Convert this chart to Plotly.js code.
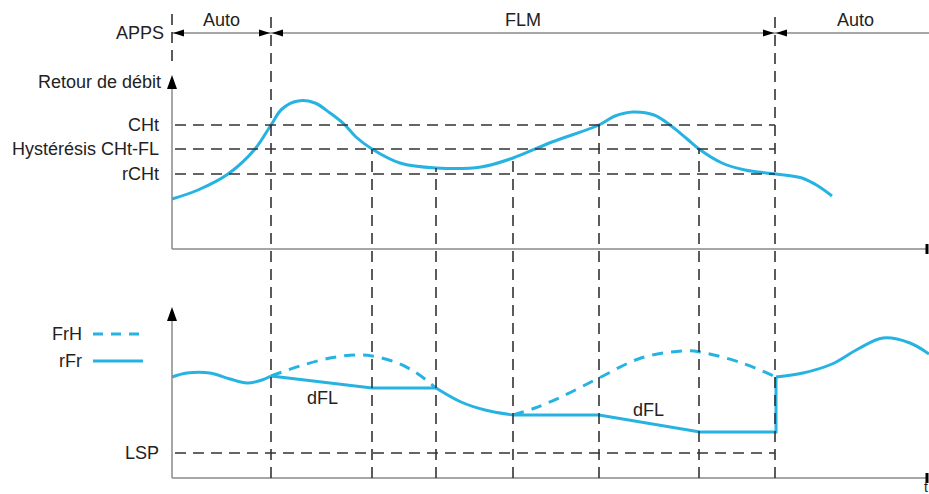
<!DOCTYPE html>
<html>
<head>
<meta charset="utf-8">
<script src="https://cdn.plot.ly/plotly-3.0.1.min.js"></script>
<style>html,body{margin:0;padding:0;background:#fff;}#chart{width:929px;height:494px;}</style>
</head>
<body>
<div id="chart"></div>
<script>
// ---------- data (time t) ----------
// Mode bar (APPS)
const modeNames = ['Auto', 'FLM', 'Auto'];
const modeBounds = [0, 99, 603, 763];

// Event times (vertical dashed markers)
const eventT = [99, 200, 264, 341, 427, 527, 603];
// level (top panel) where each marker starts; null = full height
const eventStartLevel = [null, 100, 81, 91, 124, 100, null];

// Top panel: flow return thresholds
const thrNames = ['CHt', 'Hystérésis CHt-FL', 'rCHt'];
const thrValues = [124, 100, 75];

// Top panel: flow return curve
const flowT = [0, 26, 56, 83, 99, 110, 126, 143, 158, 172, 184, 200, 228, 264, 309, 341, 380, 427, 443, 461, 482, 498, 514, 527, 550, 573, 604, 630, 646, 660];
const flowV = [50, 59, 75, 100, 124, 140, 148, 146, 136, 125, 112, 100, 86, 81, 82, 91, 107, 124, 133, 137, 134, 124, 111, 100, 86, 79, 75, 71, 63, 53];

// Bottom panel: LSP level
const lspValue = 25;

// Bottom panel: rFr (solid) – points and segment shapes
const rFrT = [0, 15, 38, 58, 75, 90, 99, 200, 264, 289, 313, 341, 427, 528, 604, 604, 631, 660, 686, 711, 738, 757];
const rFrV = [101, 105, 105, 99, 95, 98, 102, 90, 90, 76, 68, 63, 63, 46, 46, 101, 105, 114, 129, 140, 135, 124];
const rFrSegments = [[0, 6, 'spline'], [6, 8, 'linear'], [8, 11, 'spline'], [11, 15, 'linear'], [15, 21, 'spline']];

// Bottom panel: FrH (dashed) – two arcs
const frh1T = [99, 128, 158, 183, 200, 223, 243, 264];
const frh1V = [102, 112, 120, 123, 122, 116, 106, 90];
const frh2T = [341, 363, 389, 427, 469, 510, 528, 570, 604];
const frh2V = [63, 70, 81, 100, 120, 127, 126, 115, 101];

// Labels
const dflLabels = [{t: 150, v: 80}, {t: 476, v: 68}];

// ---------- layout constants ----------
const W = 929, H = 494;
const X_RANGE = [-172, 757];
const TOP_DOM = [1 - 260 / 494, 1];
const TOP_RANGE = [-11, 249];
const BOT_DOM = [0, 1 - 260 / 494];
const BOT_RANGE = [-16, 218];
const BLUE = '#27b3e2';
const DARK = '#333333';
const AXC = '#8a8a8a';
const FONT = {family: 'Liberation Sans, Arial, sans-serif', size: 18, color: '#222'};

const topPaper = v => TOP_DOM[0] + (v - TOP_RANGE[0]) / (TOP_RANGE[1] - TOP_RANGE[0]) * (TOP_DOM[1] - TOP_DOM[0]);
const botPaper = v => BOT_DOM[0] + (v - BOT_RANGE[0]) / (BOT_RANGE[1] - BOT_RANGE[0]) * (BOT_DOM[1] - BOT_DOM[0]);

// ---------- traces ----------
const traces = [];
traces.push({x: flowT, y: flowV, yaxis: 'y', mode: 'lines', line: {color: BLUE, width: 3, shape: 'spline', smoothing: 1}, hoverinfo: 'skip', showlegend: false});
rFrSegments.forEach(([a, b, s]) => {
  traces.push({x: rFrT.slice(a, b + 1), y: rFrV.slice(a, b + 1), xaxis: 'x', yaxis: 'y2', mode: 'lines',
    line: {color: BLUE, width: 3, shape: s, smoothing: 1}, hoverinfo: 'skip', showlegend: false});
});
[[frh1T, frh1V], [frh2T, frh2V]].forEach(([tx, vy]) => {
  traces.push({x: tx, y: vy, yaxis: 'y2', mode: 'lines', line: {color: BLUE, width: 3, shape: 'spline', smoothing: 1, dash: '11px,8px'}, hoverinfo: 'skip', showlegend: false});
});

// ---------- shapes ----------
const shapes = [];
const dashLine = {color: DARK, width: 1.6, dash: '11px,7px'};
// axes
shapes.push({type: 'line', xref: 'x', yref: 'y', x0: 0, x1: 0, y0: 0, y1: 160, line: {color: AXC, width: 1.5}});
shapes.push({type: 'line', xref: 'x', yref: 'y', x0: 0, x1: 755, y0: 0, y1: 0, line: {color: AXC, width: 1.5}});
shapes.push({type: 'line', xref: 'x', yref: 'y2', x0: 0, x1: 0, y0: 0, y1: 158, line: {color: AXC, width: 1.5}});
shapes.push({type: 'line', xref: 'x', yref: 'y2', x0: 0, x1: 755, y0: 0, y1: 0, line: {color: AXC, width: 1.5}});
// axis end bars
shapes.push({type: 'line', xref: 'x', yref: 'y', x0: 755, x1: 755, y0: -5, y1: 5, line: {color: '#000', width: 3}});
shapes.push({type: 'line', xref: 'x', yref: 'y2', x0: 755, x1: 755, y0: -5, y1: 5, line: {color: '#000', width: 3}});
// vertical axis arrow heads
shapes.push({type: 'path', xref: 'x', yref: 'y', xsizemode: 'pixel', ysizemode: 'pixel', xanchor: 0, yanchor: 174,
  path: 'M0,0 L-5,-14 L5,-14 Z', fillcolor: '#000', line: {width: 0}});
shapes.push({type: 'path', xref: 'x', yref: 'y2', xsizemode: 'pixel', ysizemode: 'pixel', xanchor: 0, yanchor: 171,
  path: 'M0,0 L-5,-14 L5,-14 Z', fillcolor: '#000', line: {width: 0}});
// thresholds
thrValues.forEach(v => shapes.push({type: 'line', xref: 'x', yref: 'y', x0: 3, x1: 603, y0: v, y1: v, line: dashLine}));
shapes.push({type: 'line', xref: 'x', yref: 'y2', x0: 3, x1: 603, y0: lspValue, y1: lspValue, line: dashLine});
// APPS line
const appsV = 216;
shapes.push({type: 'line', xref: 'x', yref: 'y', x0: 0, x1: 757, y0: appsV, y1: appsV, line: {color: AXC, width: 1.3}});
// vertical event markers
const topOfMarkers = 237;
shapes.push({type: 'line', xref: 'x', yref: 'paper', x0: 0, x1: 0, y0: topPaper(188), y1: topPaper(topOfMarkers), line: dashLine});
eventT.forEach((t, i) => {
  const lvl = eventStartLevel[i];
  shapes.push({type: 'line', xref: 'x', yref: 'paper', x0: t, x1: t,
    y0: botPaper(0), y1: lvl === null ? topPaper(topOfMarkers) : topPaper(lvl), line: dashLine});
});
// APPS arrow heads at mode boundaries
modeBounds.slice(0, 3).forEach((b, i) => {
  if (i > 0) shapes.push({type: 'path', xref: 'x', yref: 'y', xsizemode: 'pixel', ysizemode: 'pixel', xanchor: b, yanchor: appsV, path: 'M-1,0 L-12,3.5 L-12,-3.5 Z', fillcolor: '#000', line: {width: 0}});
  shapes.push({type: 'path', xref: 'x', yref: 'y', xsizemode: 'pixel', ysizemode: 'pixel', xanchor: b, yanchor: appsV, path: 'M1,0 L12,3.5 L12,-3.5 Z', fillcolor: '#000', line: {width: 0}});
});
// legend samples
shapes.push({type: 'line', xref: 'x', yref: 'y2', x0: -79, x1: -30, y0: 144, y1: 144, line: {color: BLUE, width: 3, dash: '10px,8px'}});
shapes.push({type: 'line', xref: 'x', yref: 'y2', x0: -79, x1: -29, y0: 117, y1: 117, line: {color: BLUE, width: 3}});

// ---------- annotations ----------
const ann = [];
const txt = (text, x, y, yref, xanchor, size) => ann.push({text, x, y, xref: 'x', yref, xanchor: xanchor || 'right', yanchor: 'middle', showarrow: false,
  font: Object.assign({}, FONT, size ? {size} : {})});
txt('APPS', -6, appsV, 'y');
modeNames.forEach((m, i) => txt(m, (modeBounds[i] + modeBounds[i + 1]) / 2, 229, 'y', 'center'));
txt('Retour de débit', -9, 167, 'y');
thrNames.forEach((n, i) => txt(n, -11, thrValues[i], 'y'));
txt('LSP', -11, lspValue, 'y2');
txt('FrH', -88, 144, 'y2');
txt('rFr', -88, 117, 'y2');
dflLabels.forEach(d => txt('dFL', d.t, d.v, 'y2', 'center'));
txt('t', 754, -17, 'y', 'center');
txt('t', 754, -9, 'y2', 'center', 14);

const layout = {
  width: W, height: H,
  margin: {l: 0, r: 0, t: 0, b: 0},
  paper_bgcolor: '#fff', plot_bgcolor: 'rgba(0,0,0,0)',
  showlegend: false,
  xaxis: {range: X_RANGE, visible: false, fixedrange: true},
  yaxis: {domain: TOP_DOM, range: TOP_RANGE, visible: false, fixedrange: true},
  yaxis2: {domain: BOT_DOM, range: BOT_RANGE, visible: false, fixedrange: true},
  shapes, annotations: ann
};
Plotly.newPlot('chart', traces, layout, {staticPlot: true, displayModeBar: false});
</script>
</body>
</html>
